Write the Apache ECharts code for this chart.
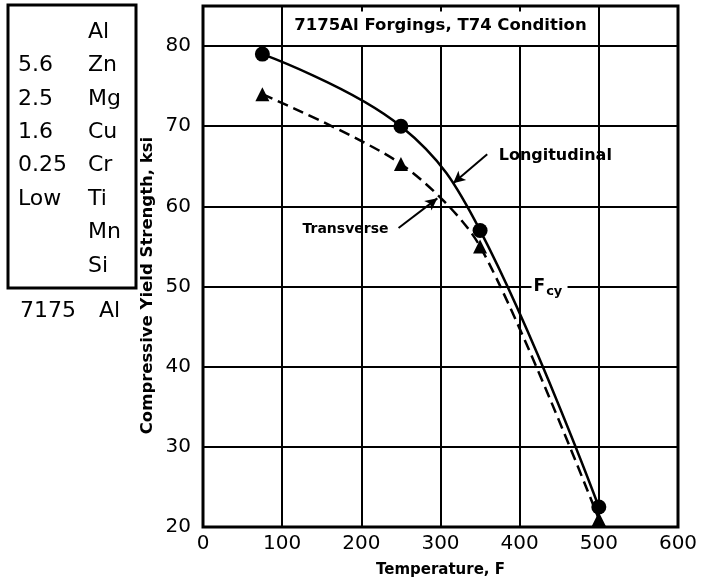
<!DOCTYPE html>
<html><head><meta charset="utf-8">
<script src="https://cdn.jsdelivr.net/npm/echarts@6/dist/echarts.min.js"></script>
<style>html,body{margin:0;padding:0;background:#fff}#c{width:701px;height:585px}</style>
</head><body><div id="c"></div>
<script>
// ---- data ----
const temps = [75, 250, 350, 500];
const longitudinal = [79, 70, 57, 22.5];
const transverse = [74, 65.3, 55, 21];
const xTicks = [0, 100, 200, 300, 400, 500, 600];
const yTicks = [20, 30, 40, 50, 60, 70, 80];
const compValues = ['', '5.6', '2.5', '1.6', '0.25', 'Low', '', ''];
const compElements = ['Al', 'Zn', 'Mg', 'Cu', 'Cr', 'Ti', 'Mn', 'Si'];
const alloyName = '7175 Al';
const chartTitle = '7175Al Forgings, T74 Condition';
const xTitle = 'Temperature, F';
const yTitle = 'Compressive Yield Strength, ksi';

const chart = echarts.init(document.getElementById('c'));
const black = '#000';
const D = '"DejaVu Sans", sans-serif';

// vertical grid lines: 100 and 500 run to top, others stop at 80
const vLines = xTicks.filter(v => v > 0 && v < 600).map(v => [
  {coord: [v, 20]}, {coord: [v, (v === 100 || v === 500) ? 85 : 80]}
]);
// small ticks at top border
const topTicks = [200, 300, 400].map(v => [{coord: [v, 85]}, {coord: [v, 84.3]}]);

const option = {
  animation: false,
  grid: {left: 203, right: 23, top: 6, bottom: 58, show: true, borderColor: black, borderWidth: 3, backgroundColor: 'transparent'},
  xAxis: {
    type: 'value', min: 0, max: 600, interval: 100,
    axisLine: {show: false}, axisTick: {show: false}, splitLine: {show: false},
    axisLabel: {color: black, fontFamily: D, fontSize: 20, margin: 7},
    name: xTitle, nameLocation: 'middle', nameGap: 36,
    nameTextStyle: {color: black, fontFamily: D, fontWeight: 'bold', fontSize: 15}
  },
  yAxis: {
    type: 'value', min: 20, max: 85, interval: 10,
    axisLine: {show: false}, axisTick: {show: false},
    splitLine: {show: true, lineStyle: {color: black, width: 2}},
    axisLabel: {color: black, fontFamily: D, fontSize: 20, margin: 12,
      formatter: v => yTicks.includes(v) ? String(v) : ''},
    name: yTitle, nameLocation: 'middle', nameGap: 47, nameMoveOverlap: false,
    nameTextStyle: {color: black, fontFamily: D, fontWeight: 'bold', fontSize: 16.5, padding: [0, 0, 0, -38]}
  },
  series: [
    {
      type: 'line', data: [], silent: true,
      markLine: {silent: true, symbol: 'none', label: {show: false},
        lineStyle: {color: black, width: 2, type: 'solid'}, data: vLines.concat(topTicks)}
    },
    {
      name: 'Longitudinal', type: 'line', smooth: 0.4,
      data: temps.map((t, i) => [t, longitudinal[i]]),
      symbol: 'circle', symbolSize: 15,
      itemStyle: {color: black}, lineStyle: {color: black, width: 2.5},
      markLine: {silent: true, symbol: ['none', 'arrow'], symbolSize: [9, 12], label: {show: false},
        lineStyle: {color: black, width: 2, type: 'solid'},
        data: [[{coord: [359, 66.5]}, {coord: [316, 62.9]}]]}
    },
    {
      name: 'Transverse', type: 'line', smooth: 0.28,
      data: temps.map((t, i) => [t, transverse[i]]),
      symbol: 'triangle', symbolSize: 14,
      itemStyle: {color: black}, lineStyle: {color: black, width: 2.5, type: [11, 6]},
      markLine: {silent: true, symbol: ['none', 'arrow'], symbolSize: [9, 12], label: {show: false},
        lineStyle: {color: black, width: 2, type: 'solid'},
        data: [[{coord: [247, 57.3]}, {coord: [296, 61.0]}]]}
    }
  ]
};
chart.setOption(option);

// annotations placed through the axes
const p = (x, y) => chart.convertToPixel({gridIndex: 0}, [x, y]);
const gfx = [];
const tl = p(100, 85), br = p(500, 80);
gfx.push({type: 'text', x: (tl[0] + br[0]) / 2, y: (tl[1] + br[1]) / 2,
  style: {text: chartTitle, fill: black, font: 'bold 16.5px ' + D, textAlign: 'center', textVerticalAlign: 'middle'}});
const lp = p(445, 66.3);
gfx.push({type: 'text', x: lp[0], y: lp[1],
  style: {text: 'Longitudinal', fill: black, font: 'bold 16px ' + D, textAlign: 'center', textVerticalAlign: 'middle'}});
const tp = p(180, 57.1);
gfx.push({type: 'text', x: tp[0], y: tp[1],
  style: {text: 'Transverse', fill: black, font: 'bold 14px ' + D, textAlign: 'center', textVerticalAlign: 'middle'}});
const fp = p(415, 50);
gfx.push({type: 'rect', shape: {x: fp[0], y: fp[1] - 4, width: 36, height: 8}, style: {fill: '#fff'}});
gfx.push({type: 'text', x: fp[0] + 2, y: fp[1],
  style: {text: '{a|F}{b|cy}', fill: black, textVerticalAlign: 'middle',
    rich: {a: {font: 'bold 17px ' + D, fill: black}, b: {font: 'bold 13px ' + D, fill: black, padding: [11, 0, 0, 1]}}}});
// composition box
gfx.push({type: 'rect', shape: {x: 8, y: 5, width: 128, height: 283}, style: {fill: 'none', stroke: black, lineWidth: 3}});
compElements.forEach((el, i) => {
  const y = 32 + i * 33.4;
  if (compValues[i]) gfx.push({type: 'text', x: 18, y: y, style: {text: compValues[i], fill: black, font: '22px ' + D, textVerticalAlign: 'middle'}});
  gfx.push({type: 'text', x: 88, y: y, style: {text: el, fill: black, font: '22px ' + D, textVerticalAlign: 'middle'}});
});
const nameParts = alloyName.split(' ');
gfx.push({type: 'text', x: 20, y: 311, style: {text: nameParts[0], fill: black, font: '22px ' + D, textVerticalAlign: 'middle'}});
gfx.push({type: 'text', x: 99, y: 311, style: {text: nameParts[1], fill: black, font: '22px ' + D, textVerticalAlign: 'middle'}});
chart.setOption({graphic: gfx});
</script></body></html>
